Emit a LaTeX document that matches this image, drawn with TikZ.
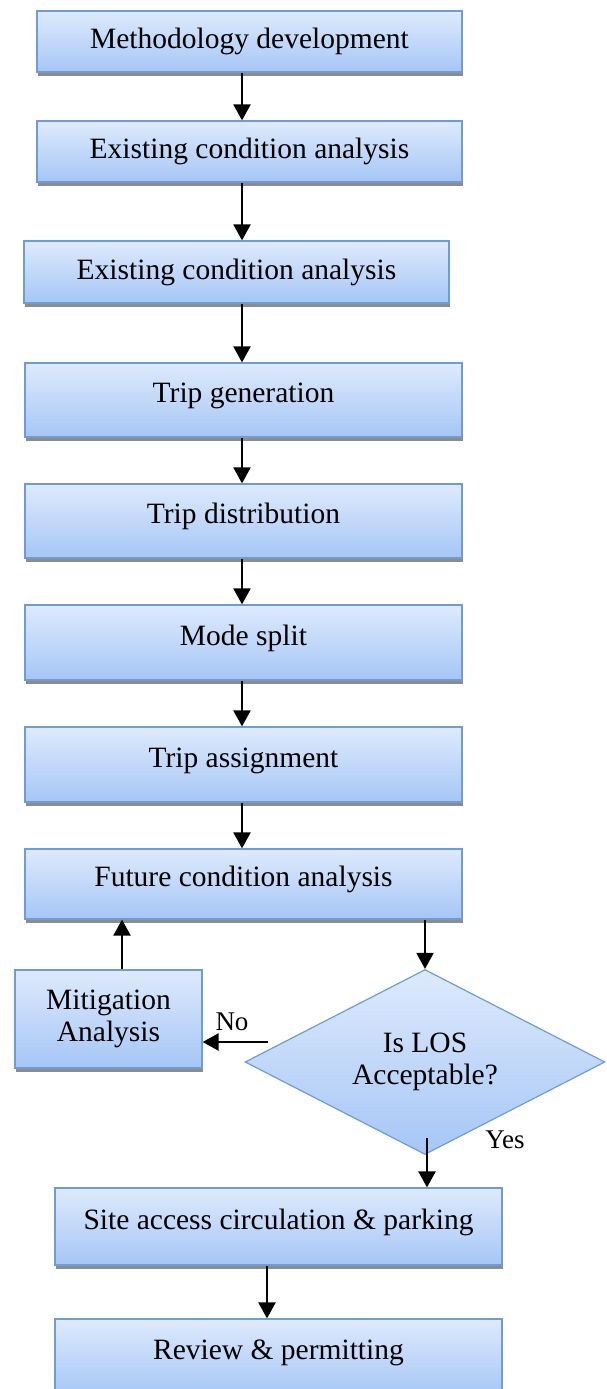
\documentclass[tikz,border=0pt]{standalone}
\usepackage{fontspec}
\setmainfont{Liberation Serif}
\usetikzlibrary{shapes.geometric,arrows.meta,shadows}
\definecolor{bordc}{HTML}{6E9CD6}
\definecolor{topc}{HTML}{DEEAFC}
\definecolor{botc}{HTML}{A6C6F6}
\definecolor{shadc}{HTML}{8C8C8C}
\begin{document}
\begin{tikzpicture}[x=1pt,y=-1pt,
  box/.style={rectangle, draw=bordc, line width=1.2pt, top color=topc, bottom color=botc,
    font=\fontsize{29.5}{32}\selectfont, inner sep=0pt, align=center,
    drop shadow={shadow xshift=1pt, shadow yshift=-4pt, fill=shadc, opacity=1}},
  tallbox/.style={box, text height=20pt, text depth=15pt},
  decision/.style={diamond, draw=bordc, line width=1.2pt, top color=topc, bottom color=botc,
    font=\fontsize{29.5}{32}\selectfont, inner sep=0pt, align=center, aspect=2},
  arr/.style={line width=2.2pt, -{Triangle[width=17pt,length=16pt]}},
  lbl/.style={font=\fontsize{27}{30}\selectfont, inner sep=0pt}
]
\useasboundingbox (0,0) rectangle (607,1389);
\node[box, minimum width=425pt, minimum height=61pt] (b1) at (249.5,41.5) {Methodology development};
\node[box, minimum width=425pt, minimum height=61pt] (b2) at (249.5,151.5) {Existing condition analysis};
\node[box, minimum width=425pt, minimum height=62pt] (b3) at (236.5,272) {Existing condition analysis};
\node[tallbox, minimum width=437pt, minimum height=74pt] (b4) at (243.5,400) {Trip generation};
\node[tallbox, minimum width=437pt, minimum height=74pt] (b5) at (243.5,521) {Trip distribution};
\node[tallbox, minimum width=437pt, minimum height=75pt] (b6) at (243.5,642.5) {Mode split};
\node[tallbox, minimum width=437pt, minimum height=75pt] (b7) at (243.5,764.5) {Trip assignment};
\node[tallbox, minimum width=437pt, minimum height=70pt] (b8) at (243.5,884) {Future condition analysis};
\node[box, minimum width=187pt, minimum height=98pt] (mit) at (108.5,1019) {Mitigation\\Analysis};
\node[decision, minimum width=360pt, minimum height=185pt] (dia) at (425,1062) {Is LOS\\Acceptable?};
\node[tallbox, minimum width=447pt, minimum height=77pt] (b9) at (278.5,1226.5) {Site access circulation \& parking};
\node[tallbox, minimum width=447pt, minimum height=76pt] (b10) at (278.5,1357) {Review \& permitting};
\node[lbl] (no) at (232,1022) {No};
\node[lbl] (yes) at (505,1140) {Yes};
\coordinate (nostart) at (268,1042);
\coordinate (yesstart) at (427,1138);
\draw[arr] ([xshift=-7.5pt]b1.south) -- ([xshift=-7.5pt]b1.south |- b2.north);
\draw[arr] ([xshift=-7.5pt]b2.south) -- ([xshift=-7.5pt]b2.south |- b3.north);
\draw[arr] ([xshift=5.5pt]b3.south) -- ([xshift=5.5pt]b3.south |- b4.north);
\draw[arr] ([xshift=-1.5pt]b4.south) -- ([xshift=-1.5pt]b4.south |- b5.north);
\draw[arr] ([xshift=-1.5pt]b5.south) -- ([xshift=-1.5pt]b5.south |- b6.north);
\draw[arr] ([xshift=-1.5pt]b6.south) -- ([xshift=-1.5pt]b6.south |- b7.north);
\draw[arr] ([xshift=-1.5pt]b7.south) -- ([xshift=-1.5pt]b7.south |- b8.north);
\draw[arr] ([xshift=181.5pt]b8.south) -- ([xshift=181.5pt]b8.south |- dia.north);
\draw[arr] ([xshift=13.5pt]mit.north) -- ([xshift=13.5pt]mit.north |- b8.south);
\draw[arr] (nostart) -- (nostart -| mit.east);
\draw[arr] (yesstart) -- (yesstart |- b9.north);
\draw[arr] ([xshift=-11.5pt]b9.south) -- ([xshift=-11.5pt]b9.south |- b10.north);
\end{tikzpicture}
\end{document}
